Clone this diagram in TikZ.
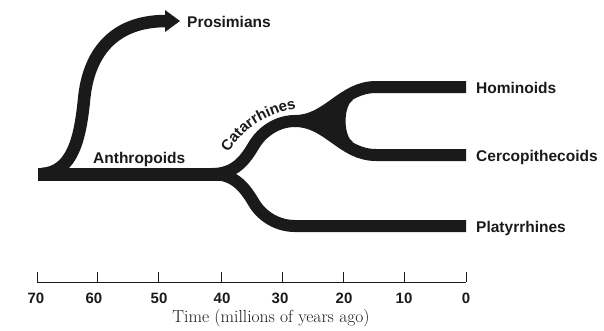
\documentclass[tikz,border=0pt]{standalone}
\usepackage{fontspec}
\newfontfamily\labfont{Liberation Sans}
\usetikzlibrary{decorations.text}
\definecolor{ink}{HTML}{1A1A1A}
\begin{document}
\begin{tikzpicture}[x=1pt,y=-1pt,
  branch/.style={draw=ink, line width=12pt, line cap=butt, line join=round},
  lab/.style={font=\labfont\bfseries\fontsize{15.5}{18}\selectfont, text=ink, inner sep=0pt, anchor=base west},
  num/.style={font=\labfont\bfseries\fontsize{15}{18}\selectfont, text=ink, inner sep=0pt, anchor=base},
  axisline/.style={draw=ink, line width=0.9pt},
  caption/.style={font=\fontsize{17.5}{21}\selectfont, text=ink, inner sep=0pt, anchor=base}]
\useasboundingbox (0,0) rectangle (604,330);

% key points
\coordinate (root) at (38,174);
\coordinate (split) at (212,174);
\coordinate (csplit) at (295,121);
\coordinate (pend) at (166,21);
\coordinate (homend) at (466,87);
\coordinate (cercend) at (466,155);
\coordinate (platend) at (466,226);

% trunk
\draw[branch, line width=13pt] (root) -- (228,174);

% Prosimians
\draw[branch, line width=12.5pt] (42,174) .. controls (72,172) and (80,140) .. (84,100)
  .. controls (88,55) and (112,21) .. (pend);
\fill[ink] (165,10) -- (180,21) -- (165,32) -- cycle;

% Catarrhines
\draw[branch] (split) .. controls (235,174) and (245,160) .. (253.4,146)
  .. controls (262,131.1) and (277.9,121) .. (csplit);
\draw[branch] (csplit) .. controls (328,121) and (342,87) .. (376,87) -- (homend);
\draw[branch] (csplit) .. controls (328,121) and (342,155) .. (376,155) -- (cercend);
% fillet of the fork
\fill[ink] (310,121) -- (340,101) -- (353.3,99.6)
  .. controls (343,105.6) and (343,136.4) .. (353.3,142.4) -- (340,141) -- cycle;

% Platyrrhines
\draw[branch] (split) .. controls (235,174) and (245,188) .. (253.4,202)
  .. controls (262,216.9) and (277.9,226) .. (295,226) -- (platend);

% labels
\node[lab] (pros) at (187,27) {Prosimians};
\node[lab] (anth) at (93,163) {Anthropoids};
\node[lab] (hom) at (476,93) {Hominoids};
\node[lab] (cerc) at (476,161) {Cercopithecoids};
\node[lab] (plat) at (476,232) {Platyrrhines};
\path[decorate, decoration={text along path, text align={left indent=6pt},
   text={|\labfont\bfseries\fontsize{15}{17}\selectfont\color{ink}|Catarrhines}}]
  (226,158) .. controls (240,130) and (265,112) .. (310,106);

% time axis
\draw[axisline] (37,282) -- (466,282);
\foreach \t/\x in {70/37,60/97,50/158,40/221,30/282,20/343,10/404,0/466}{
  \draw[axisline] (\x,282) -- (\x,272);
}
\node[num] (n70) at (36,303) {70};
\node[num] (n60) at (94,303) {60};
\node[num] (n50) at (159,303) {50};
\node[num] (n40) at (222,303) {40};
\node[num] (n30) at (280,303) {30};
\node[num] (n20) at (344,303) {20};
\node[num] (n10) at (404,303) {10};
\node[num] (n0) at (466,303) {0};
\node[caption] (cap) at (271,322) {Time (millions of years ago)};
\end{tikzpicture}
\end{document}
